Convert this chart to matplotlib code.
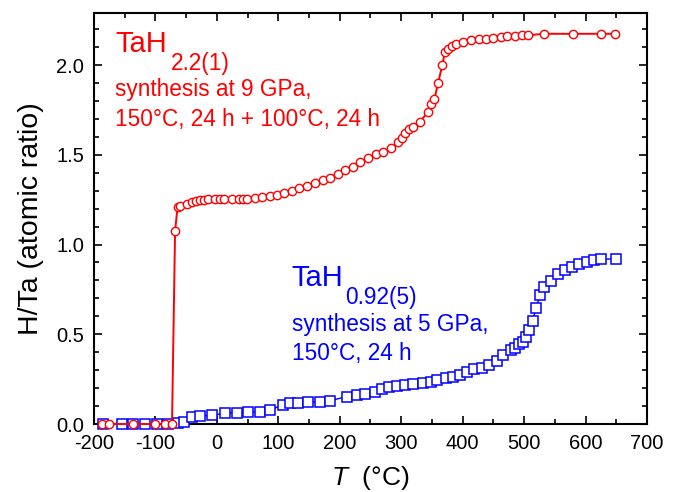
import numpy as np
import matplotlib
matplotlib.use('Agg')
import matplotlib.pyplot as plt
from matplotlib.ticker import MultipleLocator

plt.rcParams['font.family'] = ['Liberation Sans', 'DejaVu Sans']
plt.rcParams['mathtext.fontset'] = 'custom'
plt.rcParams['mathtext.rm'] = 'Liberation Sans'
plt.rcParams['mathtext.it'] = 'Liberation Sans:italic'
plt.rcParams['axes.unicode_minus'] = False

# TaH2.2(1), 9 GPa sample (red circles)
t_red = [-187, -176, -137, -101, -84, -73, -68, -64, -60, -49, -41, -34, -27.5, -20.5, -14,
         -3, 5, 12, 24, 36, 43, 49, 62, 74, 86, 98, 110, 122, 134, 146, 159, 172, 184, 197,
         209, 221, 233, 246, 259, 271, 283, 295, 301, 306, 312, 319, 331, 343, 348, 354,
         360, 367, 371, 377, 382, 389, 401, 414, 426, 438, 450, 462, 473, 485, 496, 507,
         532, 579, 625, 648]
h_red = [0, 0, 0, 0, 0, 0, 1.076, 1.208, 1.217, 1.228, 1.237, 1.243, 1.247, 1.249, 1.254,
         1.254, 1.254, 1.254, 1.254, 1.254, 1.254, 1.256, 1.261, 1.265, 1.270, 1.276, 1.287,
         1.299, 1.315, 1.328, 1.345, 1.360, 1.373, 1.394, 1.416, 1.434, 1.459, 1.481, 1.503,
         1.514, 1.537, 1.570, 1.592, 1.620, 1.644, 1.657, 1.685, 1.737, 1.782, 1.810,
         1.899, 2.001, 2.070, 2.089, 2.107, 2.118, 2.131, 2.137, 2.144, 2.146, 2.153, 2.156,
         2.160, 2.164, 2.166, 2.166, 2.174, 2.174, 2.174, 2.174]

# TaH0.92(5), 5 GPa sample (blue squares)
t_blue = [-186, -155, -136, -117, -98, -79, -64, -53.5, -41, -27.5, -8.5, 13, 32, 51, 70,
          86.5, 107, 119, 132.5, 149, 168, 184, 211, 227.5, 241, 257, 268, 280.6, 293.6,
          306, 318.7, 335, 348, 359, 372.4, 384.8, 395.7, 407.6, 419, 431, 443.4, 455.4,
          466, 478.7, 485, 491.7, 497.7, 502.6, 508, 514, 519.4, 526, 532.4, 543.3, 554.7,
          566.6, 578.5, 590, 602, 614, 625, 649]
h_blue = [0, 0, 0, 0, 0, 0, 0.003, 0.013, 0.037, 0.045, 0.048, 0.060, 0.063, 0.065, 0.069,
          0.078, 0.106, 0.115, 0.119, 0.121, 0.124, 0.130, 0.152, 0.162, 0.167, 0.180, 0.195,
          0.204, 0.212, 0.217, 0.221, 0.230, 0.236, 0.243, 0.255, 0.264, 0.275, 0.292, 0.307,
          0.314, 0.329, 0.351, 0.385, 0.412, 0.422, 0.444, 0.459, 0.483, 0.524, 0.576, 0.645,
          0.719, 0.762, 0.799, 0.834, 0.858, 0.877, 0.892, 0.905, 0.914, 0.918, 0.920]

fig = plt.figure(figsize=(6.81, 4.92), dpi=100)
ax = fig.add_axes([0.138, 0.1382, 0.812, 0.8354])

ax.plot(t_blue, h_blue, color='#0000ff', lw=1.0, marker='s', ms=7, mfc='white',
        mec='#0000ff', mew=1.1, clip_on=False, zorder=3)
ax.plot(t_red, h_red, color='#ff0000', lw=1.4, marker='o', ms=6, mfc='white',
        mec='#ff0000', mew=1.0, clip_on=False, zorder=4)

ax.set_xlim(-200, 700)
ax.set_ylim(0, 2.29)
ax.xaxis.set_major_locator(MultipleLocator(100))
ax.xaxis.set_minor_locator(MultipleLocator(50))
ax.yaxis.set_major_locator(MultipleLocator(0.5))
ax.yaxis.set_minor_locator(MultipleLocator(0.1))
ax.yaxis.set_major_formatter(plt.FormatStrFormatter('%.1f'))
ax.tick_params(which='both', direction='in', top=True, right=True, width=1.2)
ax.tick_params(which='major', length=6, labelsize=14.5)
ax.tick_params(which='minor', length=3.5)
ax.tick_params(axis='x', pad=7)
ax.tick_params(axis='y', pad=7)
for s in ax.spines.values():
    s.set_linewidth(1.5)

ax.set_xlabel(r'$\mathit{T}$  (°C)', fontsize=19, labelpad=8)
ax.set_ylabel('H/Ta (atomic ratio)', fontsize=20.5, labelpad=9)

# sample annotations
red = '#ff0000'
blue = '#0000ff'
ax.text(-165.8, 2.072, 'TaH', color=red, fontsize=21, va='baseline')
ax.text(-74.7, 1.973, '2.2(1)', color=red, fontsize=16.3, va='baseline')
ax.text(-165.8, 1.828, 'synthesis at 9 GPa,', color=red, fontsize=16.3, va='baseline')
ax.text(-165.8, 1.661, '150°C, 24 h + 100°C, 24 h', color=red, fontsize=16.3, va='baseline')

ax.text(121.8, 0.771, 'TaH', color=blue, fontsize=21, va='baseline')
ax.text(208.5, 0.669, '0.92(5)', color=blue, fontsize=16.3, va='baseline')
ax.text(121.8, 0.518, 'synthesis at 5 GPa,', color=blue, fontsize=16.3, va='baseline')
ax.text(121.8, 0.357, '150°C, 24 h', color=blue, fontsize=16.3, va='baseline')

fig.savefig('out.png', dpi=100)
